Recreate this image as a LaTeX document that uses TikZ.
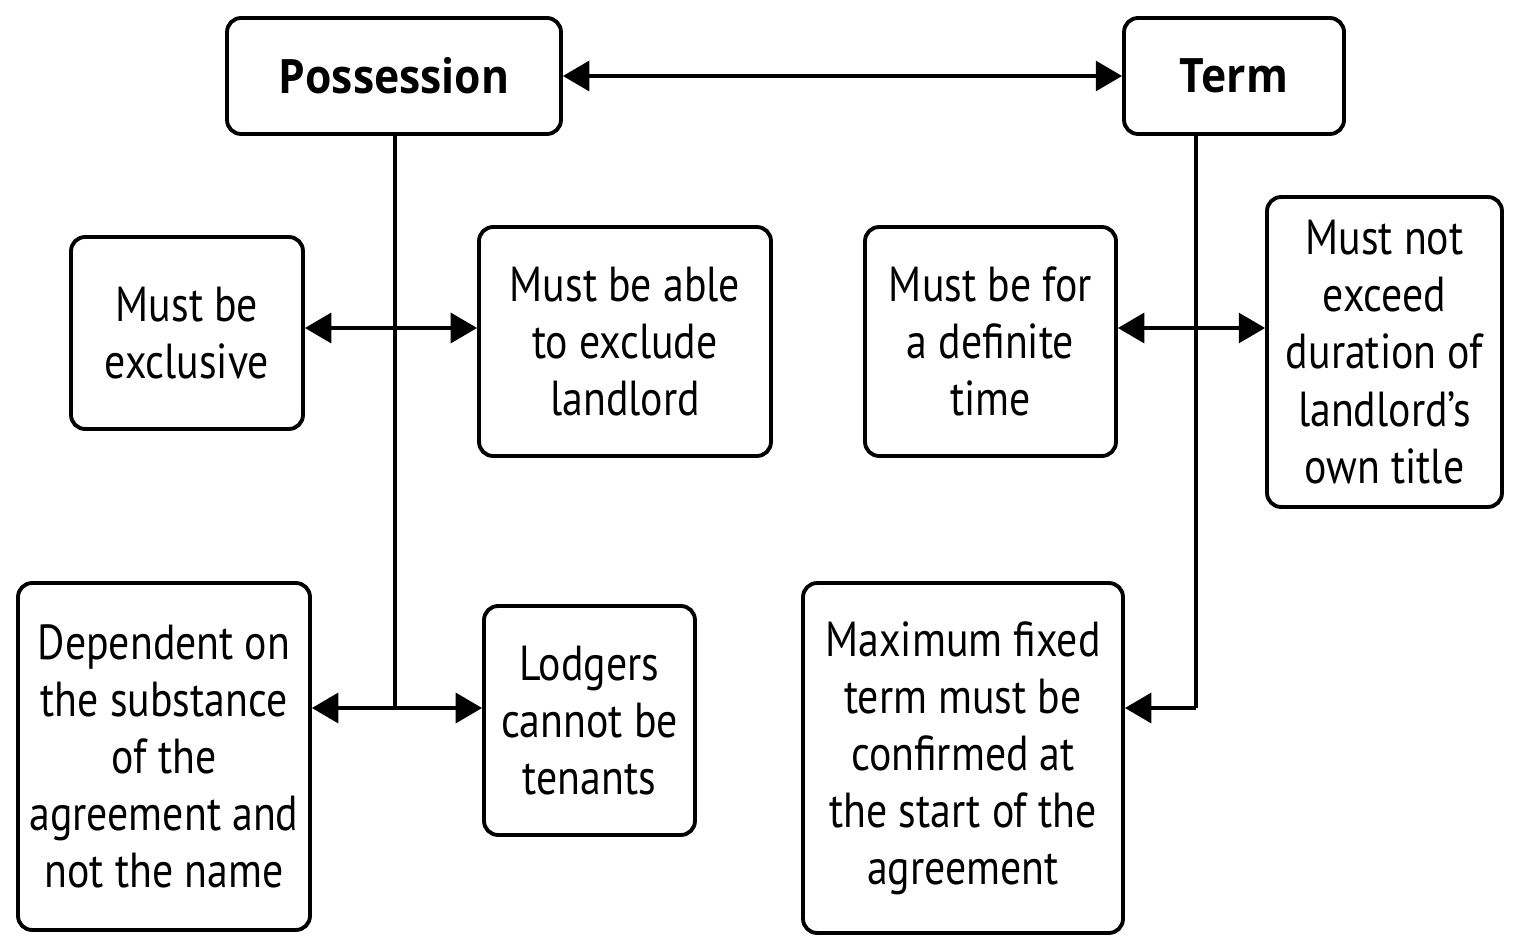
\documentclass[tikz,border=0pt]{standalone}
\usepackage{fontspec}
\setmainfont{PT Sans}[FakeStretch=0.85]
\newfontfamily\headfont{Open Sans}[FakeStretch=0.9]
\usepackage{tikz}
\usetikzlibrary{arrows.meta,positioning}

\begin{document}
\begin{tikzpicture}[x=0.02cm, y=-0.02cm,
   box/.style={draw,line width=2.2pt,rounded corners=8pt,inner sep=2pt,align=center,
      font=\fontsize{28}{32.5}\selectfont},
   head/.style={box,font=\headfont\bfseries\fontsize{27}{34}\selectfont},
   link/.style={line width=2pt},
   both/.style={link,{Triangle[length=15pt,width=17pt]}-{Triangle[length=15pt,width=17pt]}},
   tip/.style={link,-{Triangle[length=15pt,width=17pt]}}]
   \useasboundingbox (0,0) rectangle (1520,952);
   \node[head,minimum width=6.68cm,minimum height=2.32cm] (pos) at (394,76) {Possession};
   \node[head,minimum width=4.4cm,minimum height=2.32cm] (term) at (1234,76) {Term};
   \foreach \pos/\name/\w/\h/\txt in {{(187,333)/excl/4.64/3.84/Must be\\exclusive},
      {(625,341.5)/exld/5.84/4.58/Must be able\\to exclude\\landlord},
      {(990.5,341.5)/defn/5.02/4.58/Must be for\\a definite\\time},
      {(1384.5,352)/dura/4.7/6.2/Must not\\exceed\\duration of\\landlord’s\\own title},
      {(164,756.5)/dpnd/5.84/6.94/Dependent on\\the substance\\of the\\agreement and\\not the name},
      {(589.5,720.5)/ldgr/4.22/4.58/Lodgers\\cannot be\\tenants},
      {(963,758)/maxt/6.4/7.0/Maximum fixed\\term must be\\confirmed at\\the start of the\\agreement}}
   \node[box,minimum width=\w cm,minimum height=\h cm] (\name) at \pos {\txt};
   \coordinate (pj1) at (395,328);
   \coordinate (pj2) at (395,708);
   \coordinate (tj1) at (1196,328);
   \coordinate (tj2) at (1196,708);
   \draw[both] (pos.east) -- (term.west);
   \draw[link] (pos.south -| pj1) -- (pj2); % trunk under Possession
   \draw[link] (term.south -| tj1) -- (tj2); % trunk under Term
   \foreach \left/\right/\at in {excl/exld/pj1, dpnd/ldgr/pj2, defn/dura/tj1}
   \draw[both] (\left.east |- \at) -- (\right.west |- \at);
   \draw[tip] (tj2) -- (maxt.east |- tj2);
\end{tikzpicture}
\end{document}
